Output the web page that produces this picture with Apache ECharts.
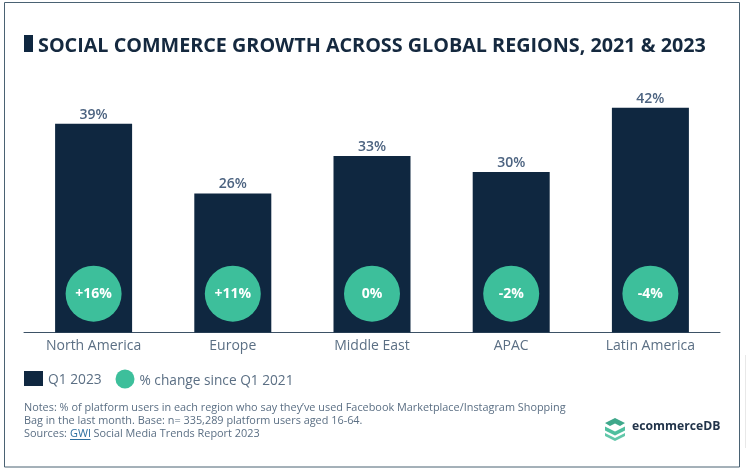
<!DOCTYPE html>
<html>
<head>
<meta charset="utf-8">
<style>
    html, body { margin: 0; padding: 0; background: #fff; }
    #main { width: 746px; height: 472px; }
</style>
<script src="https://cdn.jsdelivr.net/npm/echarts@6/dist/echarts.min.js"></script>
</head>
<body>
<div id="main"></div>
<script>
var regions = ['North America', 'Europe', 'Middle East', 'APAC', 'Latin America'];
var q12023 = [39, 26, 33, 30, 42];
var changeLabels = ['+16%', '+11%', '0%', '-2%', '-4%'];
// height at which the badges sit on the value axis
var badgeLevel = [7.25, 7.25, 7.25, 7.25, 7.25];

var navy = '#0f2740';
var green = '#3dbf9b';
var font = '"Open Sans"';

var myChart = echarts.init(document.getElementById('main'));

var option = {
    backgroundColor: '#fff',
    animation: false,
    textStyle: { fontFamily: font },
    title: {
        text: 'SOCIAL COMMERCE GROWTH ACROSS GLOBAL REGIONS, 2021 & 2023',
        left: 38,
        top: 36,
        padding: 0,
        textStyle: { fontFamily: font, fontSize: 19.75, fontWeight: 'bold', color: '#15293f' }
    },
    grid: { left: 24, top: 65, width: 696, height: 267.5 },
    legend: [
        {
            data: [{ name: 'Q1 2023', icon: 'rect' }],
            left: 24,
            top: 371,
            padding: 0,
            itemWidth: 19,
            itemHeight: 15,
            formatter: '{a|{name}}',
            textStyle: {
                rich: { a: { fontFamily: font, fontSize: 13.8, color: '#5b6f84', padding: [4, 0, 0, 0] } }
            }
        },
        {
            data: [{ name: '% change since Q1 2021', icon: 'circle' }],
            left: 115.5,
            top: 369.5,
            padding: 0,
            itemWidth: 19,
            itemHeight: 19,
            formatter: '{a|{name}}',
            textStyle: {
                rich: { a: { fontFamily: font, fontSize: 13.7, color: '#5b6f84', padding: [4, 0, 0, 0] } }
            }
        }
    ],
    xAxis: {
        type: 'category',
        data: regions,
        axisTick: { show: false },
        axisLine: { lineStyle: { color: '#3d5266', width: 1 } },
        axisLabel: { fontFamily: font, fontSize: 14, color: '#5b6f84', margin: 7 }
    },
    yAxis: {
        type: 'value',
        min: 0,
        max: 50,
        show: false
    },
    series: [
        {
            name: 'Q1 2023',
            type: 'bar',
            data: q12023,
            barWidth: 77,
            itemStyle: { color: navy },
            label: {
                show: true,
                position: 'top',
                distance: 2,
                formatter: '{c}%',
                fontFamily: font,
                fontSize: 14,
                fontWeight: 600,
                color: '#4c6380'
            }
        },
        {
            name: '% change since Q1 2021',
            type: 'scatter',
            data: badgeLevel,
            symbolSize: 56,
            itemStyle: { color: green, opacity: 1 },
            label: {
                show: true,
                position: 'inside',
                formatter: function (p) {
                    return changeLabels[p.dataIndex];
                },
                fontFamily: font,
                fontSize: 14,
                fontWeight: 'bold',
                color: '#fff'
            }
        }
    ],
    graphic: [
        // outer frame
        { type: 'rect', shape: { x: 4.5, y: 2.5, width: 735, height: 464.5 }, style: { fill: 'none', stroke: '#4a6273', lineWidth: 1 } },
        // faint edge on the right of the screenshot
        { type: 'rect', shape: { x: 745, y: 355, width: 1, height: 93 }, style: { fill: '#e8e8e8' } },
        // title marker
        { type: 'rect', shape: { x: 24, y: 35, width: 9, height: 17 }, style: { fill: navy } },
        // notes
        {
            type: 'text', left: 24, top: 401,
            style: {
                text: 'Notes: % of platform users in each region who say they\u2019ve used Facebook Marketplace/Instagram Shopping\nBag in the last month. Base: n= 335,289 platform users aged 16-64.',
                fontFamily: font, fontSize: 10.88, lineHeight: 13, fill: '#5b6f84'
            }
        },
        { type: 'text', left: 24, top: 427, style: { text: 'Sources:', fontFamily: font, fontSize: 10.88, lineHeight: 13, fill: '#5b6f84' } },
        { type: 'text', left: 70, top: 427, style: { text: 'GWI', fontFamily: font, fontSize: 10.88, lineHeight: 13, fill: '#2d6f9f' } },
        { type: 'rect', shape: { x: 70, y: 439, width: 20.5, height: 1 }, style: { fill: '#2d6f9f' } },
        { type: 'text', left: 93.5, top: 427, style: { text: 'Social Media Trends Report 2023', fontFamily: font, fontSize: 10.88, lineHeight: 13, fill: '#5b6f84' } },
        // logo
        { type: 'polygon', shape: { points: [[615, 418], [625, 423], [620, 426], [615, 423.5], [610, 426], [605, 423]] }, style: { fill: '#3fa88b' } },
        { type: 'polygon', shape: { points: [[605, 426.5], [615, 431.5], [625, 426.5], [625, 430.5], [615, 435.5], [605, 430.5]] }, style: { fill: '#4fbf9f' } },
        { type: 'polygon', shape: { points: [[605, 433], [615, 438], [625, 433], [625, 436], [615, 441], [605, 436]] }, style: { fill: '#62c7aa' } },
        { type: 'text', left: 632, top: 421, style: { text: 'ecommerceDB', fontFamily: font, fontSize: 12.2, fontWeight: 'bold', fill: '#22344a' } }
    ]
};

myChart.setOption(option);
window.addEventListener('resize', function () {
    myChart.resize();
});
</script>
</body>
</html>
